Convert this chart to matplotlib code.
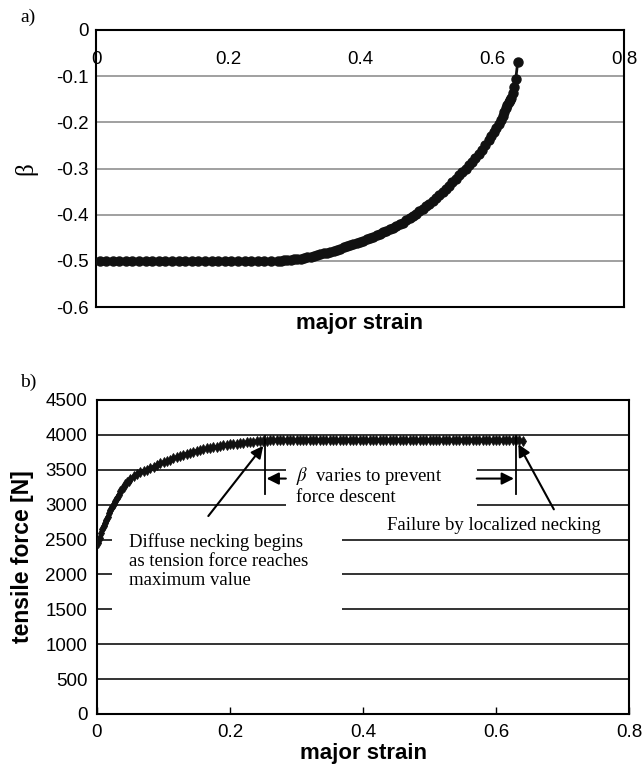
import numpy as np
import matplotlib
matplotlib.use('Agg')
import matplotlib.pyplot as plt
from matplotlib.patches import Rectangle

plt.rcParams['font.family'] = 'Liberation Sans'
plt.rcParams['mathtext.fontset'] = 'stix'
plt.rcParams['axes.unicode_minus'] = False

########## beta vs major strain (panel a)

beta_strain = [0.006, 0.015, 0.025, 0.035, 0.045, 0.055, 0.065, 0.075, 0.085, 0.095,
               0.105, 0.115, 0.125, 0.135, 0.145, 0.155, 0.165, 0.175, 0.185, 0.195,
               0.205, 0.215, 0.225, 0.235, 0.245, 0.255, 0.265, 0.275,
               0.280, 0.285, 0.290, 0.295, 0.300, 0.305, 0.310, 0.315, 0.320, 0.325,
               0.330, 0.335, 0.340, 0.345, 0.350, 0.355, 0.360, 0.365, 0.370, 0.375,
               0.380, 0.385, 0.390, 0.395, 0.400, 0.405, 0.410, 0.415, 0.420, 0.425,
               0.430, 0.435, 0.440, 0.445, 0.450, 0.455, 0.460, 0.465, 0.470, 0.475,
               0.480, 0.485, 0.490, 0.495, 0.500, 0.505, 0.510, 0.515, 0.520, 0.525,
               0.530, 0.535, 0.540, 0.545, 0.550, 0.555, 0.560, 0.565, 0.570, 0.575,
               0.580, 0.585, 0.590, 0.595, 0.599, 0.603, 0.606, 0.610, 0.613, 0.616,
               0.618, 0.621, 0.623, 0.625, 0.627, 0.629, 0.632, 0.634, 0.636, 0.639]
beta = [-0.5, -0.5, -0.5, -0.5, -0.5, -0.5, -0.5, -0.5, -0.5, -0.5,
        -0.5, -0.5, -0.5, -0.5, -0.5, -0.5, -0.5, -0.5, -0.5, -0.5,
        -0.5, -0.5, -0.5, -0.5, -0.5, -0.5, -0.5, -0.5,
        -0.4995, -0.499, -0.4985, -0.498, -0.497, -0.496, -0.495, -0.494, -0.4925, -0.491,
        -0.4895, -0.488, -0.486, -0.484, -0.482, -0.480, -0.478, -0.476, -0.4735, -0.471,
        -0.4685, -0.466, -0.4635, -0.461, -0.4585, -0.456, -0.4535, -0.4505, -0.4475, -0.4445,
        -0.4415, -0.4385, -0.435, -0.432, -0.4285, -0.425, -0.421, -0.417, -0.4125, -0.408,
        -0.403, -0.398, -0.3925, -0.387, -0.3815, -0.376, -0.370, -0.364, -0.3575, -0.351,
        -0.344, -0.337, -0.3295, -0.322, -0.315, -0.308, -0.3005, -0.293, -0.285, -0.277,
        -0.268, -0.259, -0.249, -0.239, -0.230, -0.221, -0.213, -0.203, -0.195, -0.186,
        -0.178, -0.170, -0.163, -0.156, -0.152, -0.148, -0.136, -0.124, -0.106, -0.069]

########## tensile force vs major strain (panel b)

force_strain = [0.002, 0.004, 0.006, 0.008, 0.010, 0.012, 0.014, 0.016, 0.018, 0.020,
                0.0225, 0.025, 0.0275, 0.030, 0.0325, 0.035, 0.0375, 0.040, 0.0425, 0.045,
                0.0475, 0.050, 0.055, 0.060, 0.065, 0.070, 0.075, 0.080, 0.085, 0.090,
                0.095, 0.100, 0.105, 0.110, 0.115, 0.120, 0.125, 0.130, 0.135, 0.140,
                0.145, 0.150, 0.155, 0.160, 0.165, 0.170, 0.175, 0.180, 0.185, 0.190,
                0.195, 0.200, 0.205, 0.210, 0.215, 0.220, 0.225, 0.230, 0.235, 0.240,
                0.245, 0.250, 0.255, 0.260, 0.265, 0.270, 0.275, 0.280, 0.285, 0.290,
                0.295, 0.300, 0.305, 0.310, 0.315, 0.320, 0.325, 0.330, 0.335, 0.340,
                0.345, 0.350, 0.355, 0.360, 0.365, 0.370, 0.375, 0.380, 0.385, 0.390,
                0.395, 0.400, 0.405, 0.410, 0.415, 0.420, 0.425, 0.430, 0.435, 0.440,
                0.445, 0.450, 0.455, 0.460, 0.465, 0.470, 0.475, 0.480, 0.485, 0.490,
                0.495, 0.500, 0.505, 0.510, 0.515, 0.520, 0.525, 0.530, 0.535, 0.540,
                0.545, 0.550, 0.555, 0.560, 0.565, 0.570, 0.575, 0.580, 0.585, 0.590,
                0.595, 0.600, 0.605, 0.610, 0.615, 0.620, 0.625, 0.630, 0.635, 0.640]
force = [2450, 2525, 2590, 2650, 2700, 2740, 2785, 2830, 2875, 2920,
         2965, 3005, 3055, 3100, 3145, 3190, 3225, 3260, 3290, 3320,
         3345, 3368, 3410, 3440, 3465, 3485, 3502, 3522, 3545, 3568,
         3590, 3609, 3628, 3647, 3665, 3683, 3700, 3716, 3732, 3746,
         3760, 3773, 3785, 3795, 3805, 3814, 3822, 3831, 3840, 3848,
         3855, 3863, 3870, 3876, 3882, 3888, 3893, 3898, 3903, 3907,
         3911, 3914, 3916, 3920, 3920, 3920, 3920, 3920, 3920, 3920,
         3920, 3920, 3920, 3920, 3920, 3920, 3920, 3920, 3920, 3920,
         3920, 3920, 3920, 3920, 3920, 3920, 3920, 3920, 3920, 3920,
         3920, 3920, 3920, 3920, 3920, 3920, 3920, 3920, 3920, 3920,
         3920, 3920, 3920, 3920, 3920, 3920, 3920, 3920, 3920, 3920,
         3920, 3920, 3920, 3920, 3920, 3920, 3920, 3920, 3920, 3920,
         3920, 3920, 3920, 3920, 3920, 3920, 3920, 3920, 3920, 3920,
         3920, 3920, 3920, 3920, 3920, 3920, 3920, 3920, 3920, 3915]

xticks = [0, 0.2, 0.4, 0.6, 0.8]
xticklabels = ['0', '0.2', '0.4', '0.6', '0.8']
beta_ticks = [0, -0.1, -0.2, -0.3, -0.4, -0.5, -0.6]
beta_ticklabels = ['0', '-0.1', '-0.2', '-0.3', '-0.4', '-0.5', '-0.6']
force_ticks = [0, 500, 1000, 1500, 2000, 2500, 3000, 3500, 4000, 4500]

fig = plt.figure(figsize=(6.43, 7.68), dpi=100)

########## Panel a

ax1 = fig.add_axes([96/643, 461/768, 528/643, 277/768])
ax1.plot(beta_strain, beta, '-o', color='#111111', lw=2, ms=6.5, zorder=3)
ax1.set_xlim(0, 0.8)
ax1.set_ylim(-0.6, 0)
ax1.set_xticks(xticks)
ax1.set_xticklabels(xticklabels)
ax1.set_yticks(beta_ticks)
ax1.set_yticklabels(beta_ticklabels)
ax1.xaxis.set_ticks_position('top')
ax1.xaxis.set_label_position('bottom')
ax1.tick_params(axis='x', length=0, labeltop=True, labelbottom=False, pad=-27, labelsize=13.5)
ax1.tick_params(axis='y', length=0, pad=5, labelsize=13.5)
ax1.set_axisbelow(True)
ax1.yaxis.grid(True, color='#999999', lw=1.3)
for s in ax1.spines.values():
    s.set_linewidth(1.5)
ax1.set_xlabel('major strain', fontsize=16, fontweight='bold', labelpad=4)
ax1.set_ylabel('β', family='Liberation Serif', fontsize=18, labelpad=14)
fig.text(20/643, 1 - 17/768, 'a)', family='Liberation Serif', fontsize=14, va='center')

########## Panel b

ax2 = fig.add_axes([97/643, 54/768, 532/643, 314/768])
ax2.plot(force_strain, force, '-d', color='#111111', lw=2.5, ms=5, mew=0.6, zorder=3)
ax2.set_xlim(0, 0.8)
ax2.set_ylim(0, 4500)
ax2.set_xticks(xticks)
ax2.set_xticklabels(xticklabels)
ax2.set_yticks(force_ticks)
ax2.tick_params(axis='x', direction='in', length=5, width=1, pad=7, labelsize=13.5)
ax2.tick_params(axis='y', length=0, pad=7, labelsize=13.5)
ax2.set_axisbelow(True)
ax2.yaxis.grid(True, color='#111111', lw=1.2)
for s in ax2.spines.values():
    s.set_linewidth(1.5)
ax2.set_xlabel('major strain', fontsize=16, fontweight='bold', labelpad=2)
ax2.set_ylabel('tensile force [N]', fontsize=16.5, fontweight='bold', labelpad=8)
fig.text(20/643, 1 - 382/768, 'b)', family='Liberation Serif', fontsize=14, va='center')

# white patches that break the grid behind the notes
ax2.add_patch(Rectangle((0.284, 2800), 0.287, 900, facecolor='white', edgecolor='none', zorder=1))
ax2.add_patch(Rectangle((0.022, 1300), 0.346, 1450, facecolor='white', edgecolor='none', zorder=1))

serif = 'Liberation Serif'
ax2.text(0.300, 3412, r'$\beta$  varies to prevent', family=serif, fontsize=13.5, va='center', zorder=4)
ax2.text(0.300, 3101, 'force descent', family=serif, fontsize=13.5, va='center', zorder=4)
ax2.text(0.0486, 2190, 'Diffuse necking begins\nas tension force reaches\nmaximum value',
         family=serif, fontsize=13.5, va='center', linespacing=1.15, zorder=4)
ax2.text(0.4366, 2707, 'Failure by localized necking', family=serif, fontsize=13.5, va='center', zorder=4)

# limits of the plateau
ax2.plot([0.2526, 0.2526], [3990, 3160], color='black', lw=1.3, zorder=4)
ax2.plot([0.6296, 0.6296], [3990, 3160], color='black', lw=1.3, zorder=4)

arrow = dict(arrowstyle='-|>', color='black', lw=1.5, mutation_scale=18, shrinkA=0, shrinkB=0)
ax2.annotate('', xy=(0.255, 3374), xytext=(0.284, 3374), arrowprops=arrow, zorder=4)
ax2.annotate('', xy=(0.627, 3374), xytext=(0.571, 3374), arrowprops=arrow, zorder=4)
ax2.annotate('', xy=(0.250, 3843), xytext=(0.1674, 2837), arrowprops=arrow, zorder=4)
ax2.annotate('', xy=(0.6336, 3867), xytext=(0.687, 2933), arrowprops=arrow, zorder=4)

plt.savefig('out.png', dpi=100)
